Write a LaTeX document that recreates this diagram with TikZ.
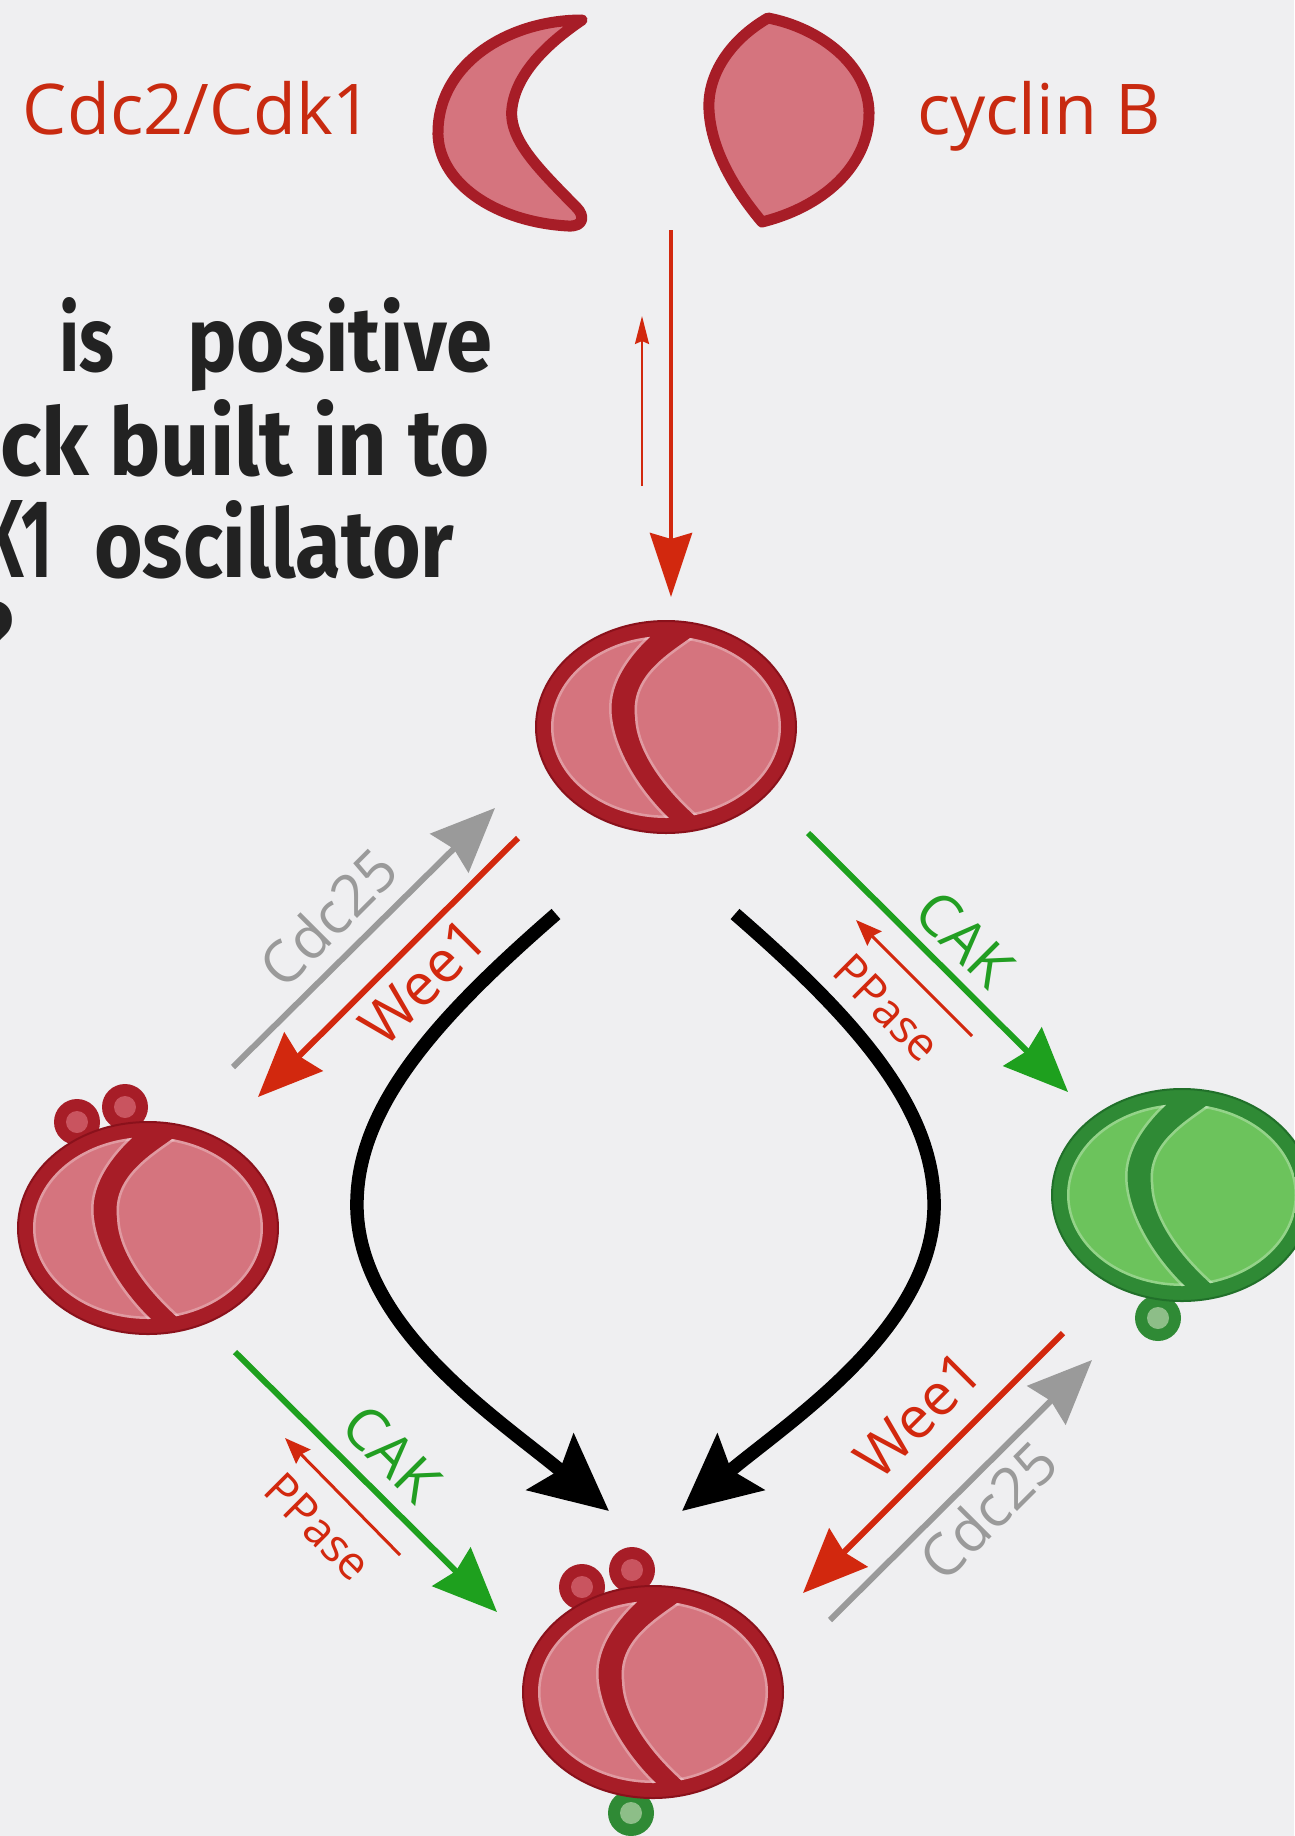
\documentclass[tikz,border=0pt]{standalone}
\usepackage{fontspec}
\setmainfont{Open Sans}
\newfontfamily\handfont{Fira Sans}
\usetikzlibrary{arrows.meta}

\definecolor{paper}{HTML}{EFEFF1}
\definecolor{ringred}{HTML}{A71D27}
\definecolor{ringdark}{HTML}{8A111B}
\definecolor{pinkfill}{HTML}{D5747E}
\definecolor{bumpred}{HTML}{C9545F}
\definecolor{ringgreen}{HTML}{2F8A35}
\definecolor{ringgreendark}{HTML}{21702A}
\definecolor{greenfill}{HTML}{6CC35C}
\definecolor{bumpgreen}{HTML}{8DBE88}
\definecolor{arrred}{HTML}{D2280E}
\definecolor{labred}{HTML}{C82A10}
\definecolor{arrgrey}{HTML}{9A9A9A}
\definecolor{arrgreen}{HTML}{1EA01E}
\definecolor{labgreen}{HTML}{229E22}
\definecolor{ink}{HTML}{222222}

% outlines of the two halves inside a complex (local coordinates)
\newcommand\cdkhalfpath{(-4,-104) -- (-13,-93) .. controls (-40,-68) and (-58,-40) .. (-54,-10)
  .. controls (-50,25) and (-25,65) .. (6,94) -- (12,106) -- (-200,120) -- (-200,-120) -- cycle}
\newcommand\cychalfpath{(38,-99) -- (27,-91) .. controls (0,-72) and (-36,-50) .. (-31,-10)
  .. controls (-30,25) and (0,65) .. (36,95) -- (60,120) -- (200,120) -- (200,-120) -- cycle}

\tikzset{
  % Cdk1--cyclin B complex: ring colour, edge colour, fill colour
  pics/complex/.style n args={3}{code={
    \fill[#1, draw=#2, line width=2pt] (0,0) ellipse [x radius=130, y radius=106];
    \begin{scope}
      \clip (0,0) ellipse [x radius=115, y radius=91];
      \fill[#3] \cdkhalfpath;
      \fill[#3] \cychalfpath;
      % soft light rim inside each half
      \begin{scope}
        \clip \cdkhalfpath;
        \draw[white, opacity=0.28, line width=5pt] \cdkhalfpath;
        \draw[white, opacity=0.28, line width=5pt] (0,0) ellipse [x radius=115, y radius=91];
      \end{scope}
      \begin{scope}
        \clip \cychalfpath;
        \draw[white, opacity=0.28, line width=5pt] \cychalfpath;
        \draw[white, opacity=0.28, line width=5pt] (0,0) ellipse [x radius=115, y radius=91];
      \end{scope}
    \end{scope}
  }},
  % phosphate group
  pics/phospho/.style 2 args={code={
    \fill[#1] (0,0) circle [radius=23];
    \fill[#2] (0,0) circle [radius=11];
  }},
}

\begin{document}
\begin{tikzpicture}[x=1pt,y=-1pt,
  lab/.style={inner sep=0pt, outer sep=0pt, font=\fontsize{58}{60}\selectfont},
  labsmall/.style={inner sep=0pt, outer sep=0pt, font=\fontsize{46}{48}\selectfont},
  protname/.style={inner sep=0pt, outer sep=0pt, text=labred, font=\fontsize{70}{72}\selectfont},
  head/.style={inner sep=0pt, outer sep=0pt, text=ink, font=\handfont\bfseries},
  majorarrow/.style={line width=6pt, -{Stealth[length=64pt, width=54pt, inset=6pt]}},
  minorarrow/.style={line width=3pt, -{Stealth[length=26pt, width=20pt, inset=3pt]}},
  swingarrow/.style={line width=13.5pt, -{Stealth[length=76pt, width=72pt, inset=12pt]}},
]
\fill[paper] (0,0) rectangle (1294,1836);
\useasboundingbox (0,0) rectangle (1294,1836);

% ---- question text (runs off the left edge) ----
\node[head, anchor=base west] (qa) at (59,371) {\resizebox{55pt}{74pt}{is}};
\node[head, anchor=base west] (qb) at (187,371) {\resizebox{305pt}{74pt}{positive}};
\node[head, anchor=base west] (qc) at (0,475) {\resizebox{490pt}{76pt}{ck built in to}};
\node[head, anchor=base east] (qd) at (52,577) {\resizebox{70pt}{77pt}{K1}};
\node[head, anchor=base west] (qe) at (94,577) {\resizebox{360pt}{77pt}{oscillator}};
\node[head, anchor=base east] (qf) at (14,679) {\resizebox{40pt}{78pt}{?}};

% ---- free subunits ----
\node[protname, anchor=base west] (cdkname) at (23,134) {Cdc2/Cdk1};
\node[protname, anchor=base west] (cycname) at (917,134) {cyclin B};
\filldraw[fill=pinkfill, draw=ringred, line width=11pt, line join=round]
  (582,20) .. controls (510,20) and (440,62) .. (438,130)
  .. controls (436,182) and (495,222) .. (568,226)
  .. controls (585,227) and (584,215) .. (577,208)
  .. controls (540,170) and (508,140) .. (512,108)
  .. controls (516,75) and (545,45) .. (582,20) -- cycle;
\filldraw[fill=pinkfill, draw=ringred, line width=11pt, line join=round]
  (768,18) .. controls (730,40) and (707,75) .. (709,110)
  .. controls (711,150) and (735,190) .. (762,222)
  .. controls (830,205) and (870,160) .. (869,112)
  .. controls (868,65) and (820,28) .. (768,18) -- cycle;

% ---- binding ----
\coordinate (bindS) at (671,230);
\coordinate (bindE) at (671,597);
\coordinate (unbindS) at (642,486);
\coordinate (unbindE) at (642,316);
\draw[arrred, line width=4.5pt, -{Stealth[length=64pt, width=42pt, inset=6pt]}] (bindS) -- (bindE);
\draw[arrred, line width=2.2pt, -{Stealth[length=28pt, width=14pt, inset=3pt]}] (unbindS) -- (unbindE);

% ---- complexes ----
\pic (free) at (666,727) {complex={ringred}{ringdark}{pinkfill}};

\pic at (77,1122) {phospho={ringred}{bumpred}};
\pic at (125,1107) {phospho={ringred}{bumpred}};
\pic (inhib) at (148,1228) {complex={ringred}{ringdark}{pinkfill}};

\pic at (1158,1318) {phospho={ringgreen}{bumpgreen}};
\pic (active) at (1182,1195) {complex={ringgreen}{ringgreendark}{greenfill}};

\pic at (582,1587) {phospho={ringred}{bumpred}};
\pic at (632,1570) {phospho={ringred}{bumpred}};
\pic at (631,1813) {phospho={ringgreen}{bumpgreen}};
\pic (triple) at (653,1692) {complex={ringred}{ringdark}{pinkfill}};

% ---- phosphorylation arrows ----
\coordinate (ulGs) at (233,1067); \coordinate (ulGe) at (495,808);
\coordinate (ulRs) at (518,838);  \coordinate (ulRe) at (258,1097);
\coordinate (urGs) at (808,833);  \coordinate (urGe) at (1068,1092);
\coordinate (urRs) at (972,1036); \coordinate (urRe) at (856,920);
\coordinate (llGs) at (235,1352); \coordinate (llGe) at (497,1612);
\coordinate (llRs) at (400,1555); \coordinate (llRe) at (285,1438);
\coordinate (lrRs) at (1063,1333); \coordinate (lrRe) at (803,1593);
\coordinate (lrGs) at (830,1620); \coordinate (lrGe) at (1092,1360);

\draw[majorarrow, arrgrey] (ulGs) -- (ulGe);
\draw[majorarrow, arrred] (ulRs) -- (ulRe);
\draw[majorarrow, arrgreen] (urGs) -- (urGe);
\draw[minorarrow, arrred] (urRs) -- (urRe);
\draw[majorarrow, arrgreen] (llGs) -- (llGe);
\draw[minorarrow, arrred] (llRs) -- (llRe);
\draw[majorarrow, arrred] (lrRs) -- (lrRe);
\draw[majorarrow, arrgrey] (lrGs) -- (lrGe);

\node[lab, text=arrgrey, rotate=45] (ulcdc) at (328,917) {Cdc25};
\node[lab, text=arrred, rotate=45] (ulwee) at (423,982) {Wee1};
\node[lab, text=labgreen, rotate=-45] (urcak) at (965,939) {CAK};
\node[labsmall, text=arrred, rotate=-45] (urpp) at (887,1008) {PPase};
\node[lab, text=labgreen, rotate=-45] (llcak) at (392,1453) {CAK};
\node[labsmall, text=arrred, rotate=-45] (llpp) at (318,1527) {PPase};
\node[lab, text=arrred, rotate=45] (lrwee) at (918,1415) {Wee1};
\node[lab, text=arrgrey, rotate=45] (lrcdc) at (988,1510) {Cdc25};

% ---- overall conversion ----
\coordinate (swLs) at (556,914); \coordinate (swLe) at (609,1511);
\coordinate (swRs) at (735,914); \coordinate (swRe) at (682,1511);
\draw[swingarrow] (swLs) .. controls (434,1020) and (354,1110) .. (357,1210)
  .. controls (361,1330) and (500,1420) .. (swLe);
\draw[swingarrow] (swRs) .. controls (857,1020) and (937,1110) .. (934,1210)
  .. controls (930,1330) and (791,1420) .. (swRe);
\end{tikzpicture}
\end{document}
